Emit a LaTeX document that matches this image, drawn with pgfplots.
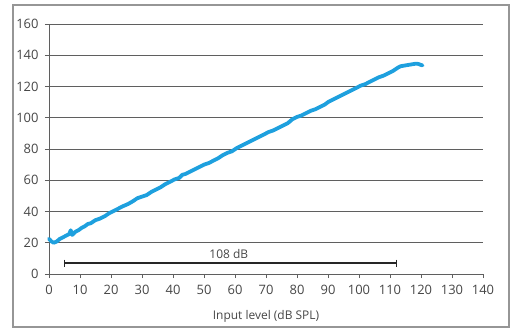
\documentclass[border=0pt]{standalone}
\usepackage{pgfplots}
\pgfplotsset{compat=1.18}
\usepackage{fontspec}
\setmainfont{Open Sans}
\definecolor{lineblue}{RGB}{30,160,222}
\definecolor{gridgray}{RGB}{95,95,95}
\definecolor{framegray}{RGB}{150,150,150}
\definecolor{txt}{RGB}{70,70,70}
\begin{document}
\begin{tikzpicture}
\path (-49bp,-57bp) rectangle (465bp,274bp);
\draw[framegray, line width=1.2bp] (-36bp,-53bp) rectangle (460bp,269bp);
\begin{axis}[
  scale only axis,
  width=434bp, height=250bp,
  xmin=0, xmax=140, ymin=0, ymax=160,
  xtick={0,10,...,140}, ytick={0,20,...,160},
  axis lines=left,
  axis line style={-, gridgray, line width=0.9bp},
  ymajorgrids,
  grid style={gridgray, line width=0.9bp},
  tick align=outside,
  major tick length=4bp,
  tick style={gridgray, line width=0.9bp},
  every tick label/.append style={font=\fontsize{13}{15}\selectfont, text=txt},
  xticklabel style={yshift=-4bp},
  yticklabel style={xshift=-3bp},
  /pgf/number format/assume math mode=true,
  xlabel={Input level (dB SPL)},
  xlabel style={font=\fontsize{12}{14}\selectfont, text=txt, yshift=-9bp},
  clip=false,
]
\addplot[lineblue, line width=3.8bp, line join=round, line cap=round] coordinates {
(0,22.5)(0.7,21)(1.5,20)(2.5,20.8)(3.5,22.5)(4.5,23.5)(5.5,24.5)(6.5,25.5)(7,28)(7.5,25)(8.5,27)(9.5,28)(10.5,29.5)(11.5,30.5)(12.5,32)(13.5,32.5)(15,34.5)(16.5,35.5)(18,37)(19.5,39)(21,40.5)(22.5,42)(24,43.5)(25.5,44.8)(27,46.5)(28.5,48.5)(30,49.5)(31.5,50.5)(33,52.5)(34.5,54)(36,55.5)(37.5,57.5)(39,59)(40.5,60.5)(42,61.5)(43,63.5)(44,64)(45.5,65.5)(47,67)(48.5,68.5)(50,70)(51.5,71)(53,72.5)(54.5,74)(56,76)(57.5,77.5)(59,78.5)(60.5,80.5)(62,82)(63.5,83.5)(65,85)(66.5,86.5)(68,88)(69.5,89.5)(71,91)(72.5,92)(74,93.5)(75.5,95)(77,96.5)(78.5,99)(80,100.5)(81.5,101.5)(83,103)(84.5,104.5)(86,105.5)(87.5,107)(89,108.5)(90,110)(91.5,111.5)(93,113)(94.5,114.5)(96,116)(97.5,117.5)(99,119)(100.5,120.5)(102,121.5)(103.5,123)(105,124.5)(106.5,126)(108,127)(109.5,128.5)(111,130)(112.5,132)(113.5,133)(115,133.5)(116.5,134)(118,134.5)(119,134.5)(120,133.8)(120.5,133.5)
};
\addplot[black!85, line width=1.6bp, mark=|, mark size=3.5bp, mark options={line width=1.2bp}] coordinates {(5,7)(112,7)};
\node[font=\fontsize{12}{14}\selectfont, text=txt] at (axis cs:58,13) {108 dB};
\end{axis}
\end{tikzpicture}
\end{document}
